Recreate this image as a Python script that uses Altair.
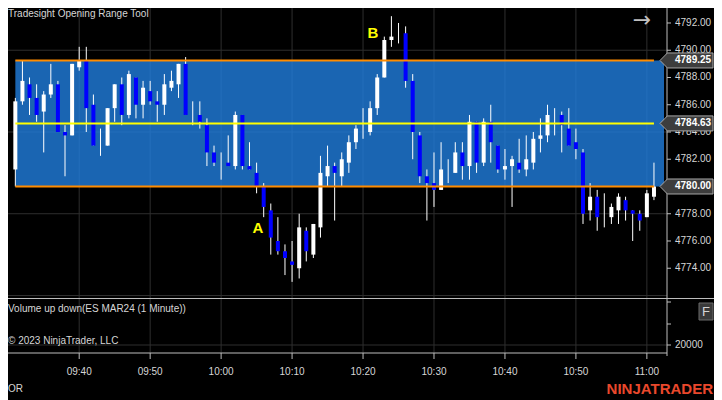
import altair as alt
import pandas as pd

# ---------------- data ----------------
# minutes after 09:30 (one candle per minute, 09:31 .. 11:01)
minutes = list(range(1, 92))
opens = [4781.25, 4786.25, 4787.5, 4786.5, 4785.5, 4786.75, 4787.5, 4784.0, 4783.75, 4788.75,
         4789.25, 4786.0, 4783.0, 4783.0, 4785.75, 4787.5, 4785.25, 4788.0, 4786.0, 4787.0,
         4786.25, 4786.0, 4787.25, 4787.5, 4789.0, 4785.25, 4785.25, 4784.5, 4782.5, 4781.75,
         4781.75, 4781.5, 4785.25, 4781.5, 4781.0, 4780.0, 4778.25, 4776.0, 4775.25, 4774.5,
         4774.0, 4776.75, 4775.0, 4777.0, 4780.75, 4781.5, 4780.75, 4781.75, 4783.25, 4784.25,
         4784.0, 4785.75, 4788.0, 4790.75, 4791.0, 4791.25, 4787.75, 4783.75, 4780.75, 4780.25,
         4779.75, 4781.25, 4781.0, 4782.5, 4781.5, 4784.75, 4781.75, 4784.75, 4783.0, 4781.25,
         4781.5, 4781.75, 4781.25, 4781.75, 4783.5, 4783.75, 4784.5, 4785.25, 4784.25, 4783.25,
         4782.5, 4778.25, 4779.25, 4778.25, 4777.75, 4778.25, 4779.0, 4778.25, 4778.0, 4777.75,
         4779.25]
highs = [4786.5, 4789.25, 4788.0, 4787.5, 4787.0, 4789.0, 4787.75, 4784.5, 4789.0, 4790.25,
         4790.25, 4786.75, 4784.25, 4785.75, 4787.5, 4788.0, 4788.5, 4788.0, 4787.75, 4787.75,
         4787.0, 4788.25, 4788.5, 4789.0, 4789.5, 4786.25, 4786.25, 4785.0, 4783.0, 4782.5,
         4783.75, 4785.5, 4785.25, 4783.25, 4781.75, 4780.25, 4778.75, 4777.75, 4775.75, 4776.0,
         4778.0, 4777.0, 4777.25, 4782.25, 4783.0, 4781.75, 4782.5, 4783.75, 4784.5, 4785.75,
         4786.25, 4788.25, 4791.0, 4792.5, 4792.0, 4791.75, 4788.25, 4784.0, 4781.25, 4782.5,
         4783.25, 4782.0, 4783.25, 4783.25, 4785.25, 4784.75, 4785.0, 4786.0, 4783.0, 4782.75,
         4782.25, 4783.5, 4783.75, 4784.0, 4785.0, 4786.0, 4785.75, 4785.5, 4785.75, 4784.25,
         4782.75, 4780.25, 4779.75, 4779.5, 4778.75, 4779.5, 4779.25, 4778.25, 4778.25, 4779.75,
         4781.75]
lows = [4780.0, 4786.0, 4785.25, 4784.75, 4782.5, 4786.5, 4784.0, 4780.75, 4783.75, 4788.5,
        4784.0, 4783.0, 4782.25, 4783.0, 4784.75, 4784.5, 4785.0, 4785.0, 4785.0, 4786.0,
        4784.75, 4785.25, 4787.0, 4786.5, 4785.25, 4784.5, 4784.25, 4781.5, 4781.5, 4780.5,
        4781.5, 4781.25, 4781.25, 4781.25, 4779.5, 4777.75, 4775.0, 4775.0, 4773.5, 4773.0,
        4773.25, 4774.5, 4774.75, 4776.25, 4780.0, 4777.5, 4780.0, 4781.0, 4782.75, 4783.5,
        4783.75, 4785.25, 4788.0, 4790.25, 4790.5, 4787.25, 4782.0, 4780.25, 4777.5, 4778.5,
        4779.75, 4780.25, 4781.0, 4780.5, 4780.5, 4781.0, 4781.5, 4781.75, 4781.0, 4780.5,
        4778.5, 4781.0, 4780.75, 4781.25, 4782.5, 4783.25, 4783.75, 4782.5, 4783.0, 4782.0,
        4777.25, 4777.5, 4776.75, 4777.0, 4777.25, 4777.25, 4777.5, 4776.0, 4776.75, 4777.75,
        4779.0]
closes = [4786.25, 4787.75, 4786.5, 4785.25, 4786.75, 4787.5, 4784.0, 4783.75, 4789.0, 4789.25,
          4785.75, 4783.0, 4783.0, 4785.75, 4787.5, 4785.25, 4788.25, 4786.0, 4787.25, 4786.25,
          4786.0, 4787.5, 4787.75, 4789.0, 4785.25, 4785.25, 4784.75, 4782.5, 4781.75, 4781.75,
          4781.5, 4785.25, 4781.5, 4781.25, 4780.0, 4778.5, 4776.25, 4775.25, 4774.75, 4774.25,
          4777.0, 4775.25, 4777.25, 4781.0, 4781.5, 4781.0, 4782.0, 4783.25, 4784.25, 4784.25,
          4785.75, 4788.0, 4790.75, 4791.0, 4791.0, 4787.75, 4784.0, 4780.75, 4780.25, 4779.75,
          4781.25, 4781.25, 4782.5, 4781.5, 4784.75, 4781.75, 4784.75, 4783.25, 4781.25, 4781.5,
          4782.0, 4781.25, 4782.0, 4783.5, 4783.75, 4785.25, 4784.5, 4784.5, 4783.0, 4782.75,
          4778.0, 4779.25, 4777.75, 4778.25, 4778.5, 4779.25, 4778.25, 4778.0, 4777.5, 4779.5,
          4780.0]

or_high = 4789.25
or_mid = 4784.63
or_low = 4780.00
or_labels = ["4789.25", "4784.63", "4780.00"]

price_ticks = [4774, 4776, 4778, 4782, 4784, 4786, 4788, 4790, 4792]
tick_marks_at = [4774, 4776, 4778, 4780, 4782, 4784, 4786, 4788, 4790, 4792]
grid_prices = [4772, 4778, 4784, 4790]
time_ticks = [10, 20, 30, 40, 50, 60, 70, 80, 90]
time_labels = ["09:40", "09:50", "10:00", "10:10", "10:20", "10:30", "10:40", "10:50", "11:00"]

# ---------------- layout helpers ----------------
OFF = 8
def px(v):
    return v - OFF

W, H = 706, 392
FONT = "Liberation Sans"
xs = alt.Scale(domain=[-0.034, 99.46], range=[0, W], nice=False, zero=False, padding=0)
ys = alt.Scale(domain=[4771.89, 4793.10], range=[289, 0], nice=False, zero=False, padding=0)

candles = pd.DataFrame({"m": minutes, "open": opens, "high": highs, "low": lows, "close": closes})
up = candles[candles["close"] >= candles["open"]]
down = candles[candles["close"] < candles["open"]]

def X(f):
    return alt.X(f, type="quantitative", scale=xs, axis=None)

def Y(f):
    return alt.Y(f, type="quantitative", scale=ys, axis=None)

one = pd.DataFrame({"k": [0]})

def hline(y, x1, x2, color):
    return alt.Chart(one).mark_rule(color=color, strokeWidth=1).encode(
        y=alt.value(y), x=alt.value(x1), x2=alt.value(x2))

GRID = "#2e2e2e"
AX = "#bdbdbd"
TXT = "#d6d6d6"

vgrid = alt.Chart(pd.DataFrame({"m": time_ticks})).mark_rule(color=GRID, strokeWidth=1).encode(
    x=X("m"), y=alt.value(0), y2=alt.value(px(353)))
hgrid = alt.Chart(pd.DataFrame({"p": grid_prices})).mark_rule(color=GRID, strokeWidth=1).encode(
    y=Y("p"), x=alt.value(0), x2=alt.value(px(667)))
volgrid = hline(px(345), 0, px(667), GRID)

box = alt.Chart(pd.DataFrame({"m": [1], "hi": [or_high], "lo": [or_low]})).mark_rect(
    color="#207ede", opacity=0.8).encode(
    x=X("m"), x2=alt.value(px(664)), y=Y("hi"), y2=alt.Y2("lo"))

wicks = alt.Chart(candles).mark_rule(color="#ffffff", strokeWidth=1).encode(
    x=X("m"), y=Y("low"), y2=alt.Y2("high"))
up_bodies = alt.Chart(up).mark_bar(size=4, color="#ffffff").encode(
    x=X("m"), y=Y("open"), y2=alt.Y2("close"))
down_bodies = alt.Chart(down).mark_bar(size=4, color="#0000ff").encode(
    x=X("m"), y=Y("open"), y2=alt.Y2("close"))

or_df = pd.DataFrame({"m0": [1, 1, 1], "m1": [91, 91, 91], "p": [or_high, or_mid, or_low], "lab": or_labels})
edges = alt.Chart(or_df.iloc[[0, 2]]).mark_rule(strokeWidth=2, color="#ff8c00").encode(
    x=X("m0"), x2=alt.X2("m1"), y=Y("p"))
mid = alt.Chart(or_df.iloc[[1]]).mark_rule(strokeWidth=2, color="#ffff00").encode(
    x=X("m0"), x2=alt.X2("m1"), y=Y("p"))

# separators and axis lines
sep1 = hline(px(298.5), 0, W, AX)
sep2 = hline(px(353), 0, px(667), AX)
vaxis = alt.Chart(one).mark_rule(color=AX, strokeWidth=1).encode(
    x=alt.value(px(667)), y=alt.value(0), y2=alt.value(px(356)))

ptick_marks = alt.Chart(pd.DataFrame({"p": tick_marks_at})).mark_rule(color=AX).encode(
    y=Y("p"), x=alt.value(px(667)), x2=alt.value(px(671)))
ptick_text = alt.Chart(pd.DataFrame({"p": price_ticks, "lab": [f"{v:.2f}" for v in price_ticks]})).mark_text(
    align="left", baseline="middle", font=FONT, fontSize=10, color=TXT).encode(
    y=Y("p"), x=alt.value(px(675)), text="lab:N")

vol_ticks = [hline(px(v), px(667), px(671), AX) for v in (302, 324, 345)]

markers = alt.Chart(or_df).mark_point(
    shape="M-1,0 L-0.72,-0.283 L1,-0.283 L1,0.283 L-0.72,0.283 Z",
    size=2809, filled=True, fill="#3d3d3d", stroke="#a6a6a6", strokeWidth=1, opacity=1).encode(
    x=alt.value(px(686.5)), y=Y("p"))
marker_text = alt.Chart(or_df).mark_text(
    align="left", baseline="middle", font=FONT, fontSize=10, fontWeight="bold", color="#ffffff").encode(
    x=alt.value(px(675)), y=Y("p"), text="lab:N")

tdf = pd.DataFrame({"m": time_ticks, "lab": time_labels})
tticks = alt.Chart(tdf).mark_rule(color=AX).encode(x=X("m"), y=alt.value(px(353)), y2=alt.value(px(359)))
ttext = alt.Chart(tdf).mark_text(baseline="middle", font=FONT, fontSize=10, color=TXT).encode(
    x=X("m"), y=alt.value(px(372)), text="lab:N")

def label(txt, x, y, size=10, color=TXT, align="left", weight="normal", font=FONT):
    return alt.Chart(pd.DataFrame({"t": [txt]})).mark_text(
        align=align, baseline="middle", font=font, fontSize=size, color=color, fontWeight=weight).encode(
        x=alt.value(x), y=alt.value(y), text="t:N")

title = label("Tradesight Opening Range Tool", 0, 6)
vol_label = label("20000", px(675), px(345))
vol_title = label("Volume up down(ES MAR24 (1 Minute))", 0, px(309))
copyright_t = label("\u00a9 2023 NinjaTrader, LLC", 0, px(341))
or_t = label("OR", 0, px(389))
brand = label("NINJATRADER", W - 1, px(389), size=15, color="#e9482c", align="right", weight="bold")
a_t = label("A", px(258), px(228), size=15, color="#ffff00", align="center", weight="bold")
b_t = label("B", px(373), px(33), size=15, color="#ffff00", align="center", weight="bold")
arrow = label("\u2192", px(642), px(20), size=22, color="#c0c0c0", align="center", font="DejaVu Sans")

fbox = alt.Chart(one).mark_rect(fill="#3a3a3a", stroke="#6a6a6a", strokeWidth=1).encode(
    x=alt.value(W - 15), x2=alt.value(W - 1), y=alt.value(px(303)), y2=alt.value(px(320)))
f_t = label("F", W - 8, px(311.5), size=13, color=TXT, align="center")

chart = alt.layer(
    vgrid, hgrid, volgrid, box, wicks, up_bodies, down_bodies, edges, mid,
    sep1, sep2, vaxis, ptick_marks, ptick_text, *vol_ticks, vol_label,
    markers, marker_text, tticks, ttext,
    title, vol_title, copyright_t, or_t, brand, a_t, b_t, arrow, fbox, f_t
).properties(
    width=W, height=H, background="#000000", padding=0,
    autosize=alt.AutoSizeParams(type="none")
).configure_view(strokeWidth=0)

chart.save("out.html", embed_options={"renderer": "svg", "actions": False})
